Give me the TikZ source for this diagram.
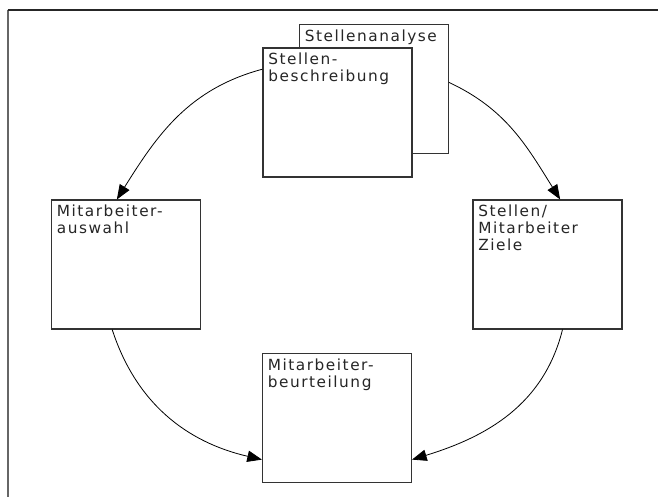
\documentclass[tikz,border=0pt]{standalone}
\usepackage{fontspec}
\setmainfont{DejaVu Sans}[LetterSpace=10]
\usetikzlibrary{arrows.meta}

\begin{document}
\begin{tikzpicture}[
    x=0.75pt, y=0.75pt,
    font=\fontsize{11.5}{12.75}\selectfont,
    card/.style={draw=black!80, fill=white, line width=0.8pt, minimum width=111.75pt, minimum height=96.75pt, inner sep=0pt},
    caption/.style={anchor=north west, align=left, inner sep=4.2pt, text=black!85},
    flow/.style={-{Triangle[length=11pt, width=8.5pt]}, line width=0.6pt},
    frame/.style={line width=1.1pt}
  ]
  \useasboundingbox (0,0) rectangle (658,-497);
  %% frame
  \draw[frame, black!60] (8,-497) -- (8,-10);
  \draw[frame, black!85] (7.5,-10) -- (658,-10);
  %% top stack
  \node[card, label={[caption]north west:Stellenanalyse}] (analyse) at (374,-89) {};
  \node[card, label={[caption]north west:{Stellen-\\beschreibung}}] (beschr) at (337.5,-112.5) {};
  %% side boxes
  \node[card, label={[caption]north west:{Mitarbeiter-\\auswahl}}] (auswahl) at (126,-264.5) {};
  \node[card, label={[caption]north west:{Stellen/\\Mitarbeiter\\Ziele}}] (ziele) at (547.5,-264.5) {};
  %% bottom box
  \node[card, label={[caption]north west:{Mitarbeiter-\\beurteilung}}] (beurt) at (337,-418) {};
  %% cycle
  \draw[flow] (beschr.150) to[out=195, in=58] (auswahl.98);
  \draw[flow] (analyse.5) to[out=-25, in=122] (ziele.79);
  \draw[flow] (auswahl.258) to[out=-72, in=167] (beurt.209);
  \draw[flow] (ziele.283) to[out=-104, in=17] (beurt.331);
\end{tikzpicture}
\end{document}
